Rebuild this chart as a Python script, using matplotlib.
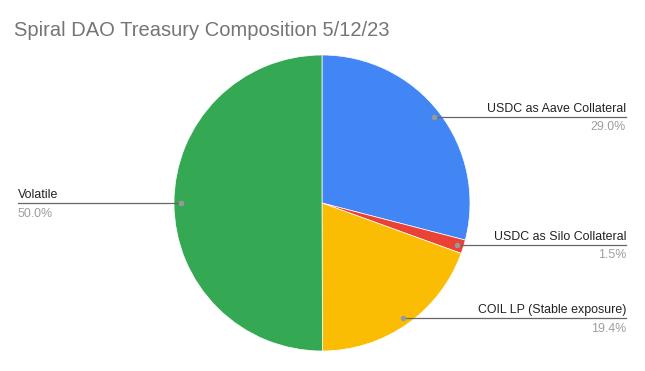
import numpy as np
import matplotlib
matplotlib.use("Agg")
import matplotlib.pyplot as plt

title = "Spiral DAO Treasury Composition 5/12/23"
labels = ["USDC as Aave Collateral", "USDC as Silo Collateral", "COIL LP (Stable exposure)", "Volatile"]
values = [29.0, 1.5, 19.4, 50.0]
colors = ["#4285F4", "#EA4335", "#FBBC04", "#34A853"]

W, H = 645, 371
fig = plt.figure(figsize=(W / 100, H / 100), dpi=100)
ax = fig.add_axes([0, 0, 1, 1])

cx, cy, R = 322, H - 203, 148
wedges, _ = ax.pie(values, colors=colors, startangle=90, counterclock=False,
                   center=(cx, cy), radius=R, frame=True,
                   wedgeprops=dict(linewidth=0.5, edgecolor="white"))
ax.set_xlim(0, W)
ax.set_ylim(0, H)
ax.set_aspect("equal")
ax.axis("off")

font = "Liberation Sans"
fs = 8.95
total = sum(values)
cum = 0.0
for lab, v in zip(labels, values):
    mid = 90 - (cum + v / 2) / total * 360
    cum += v
    rr = 0.953 * R
    px = cx + rr * np.cos(np.radians(mid))
    py = cy + rr * np.sin(np.radians(mid))
    pct = f"{v:.1f}%"
    if px >= cx:
        x_end = 626
        ha = "right"
        ax.plot([px, x_end], [py, py], color="#666666", lw=0.9, zorder=3)
    else:
        x_end = 18
        ha = "left"
        ax.plot([x_end, px], [py, py], color="#666666", lw=0.9, zorder=3)
    ax.text(x_end, py + 2, lab, ha=ha, va="bottom", fontsize=fs,
            color="#222222", family=font)
    ax.text(x_end, py - 4.5, pct, ha=ha, va="top", fontsize=fs,
            color="#9e9e9e", family=font)
    ax.plot([px], [py], "o", color="#999999", ms=3, zorder=4)

fig.text(14 / W, 1 - 31 / H, title, ha="left", va="center", fontsize=14.5,
         color="#757575", family=font)

fig.savefig("out.png", dpi=100, facecolor="white")
